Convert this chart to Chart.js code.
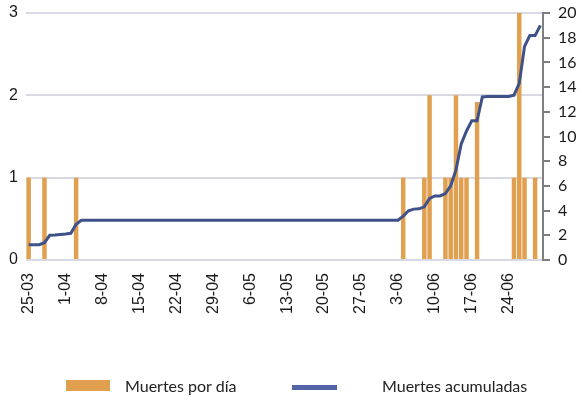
<!DOCTYPE html>
<html>
<head>
<meta charset="utf-8">
<script src="https://cdn.jsdelivr.net/npm/chart.js@4.4.1/dist/chart.umd.min.js"></script>
<style>
    html, body { margin: 0; padding: 0; background: #ffffff; }
    #chart-wrap { position: relative; width: 582px; height: 401px; }
    .legend-item { position: absolute; font-family: Lato, sans-serif; font-size: 16px; color: #222222; line-height: 16px; }
    .legend-swatch { position: absolute; }
</style>
</head>
<body>
<div id="chart-wrap">
    <canvas id="deathsChart"></canvas>
    <div class="legend-swatch" id="swatch-bar" style="left:66px; top:380px; width:44px; height:11px;"></div>
    <div class="legend-item" id="label-bar" style="left:125px; top:378px;"></div>
    <div class="legend-swatch" id="swatch-line" style="left:292px; top:385px; width:45px; height:5px;"></div>
    <div class="legend-item" id="label-line" style="left:382px; top:378px;"></div>
</div>
<script>
// Dias del 25-03 al 30-06; etiqueta visible cada 7 dias
const Start_Day = 25;
const Month_Names = ['03', '04', '05', '06'];
const Month_Lengths = [31, 30, 31, 30];
const Num_Days = 98;

// Muertes por dia, una fila por semana (empezando el 25-03)
const Daily_Deaths = [
    1, 0, 0, 1, 0, 0, 0,
    0, 0, 1, 0, 0, 0, 0,
    0, 0, 0, 0, 0, 0, 0,
    0, 0, 0, 0, 0, 0, 0,
    0, 0, 0, 0, 0, 0, 0,
    0, 0, 0, 0, 0, 0, 0,
    0, 0, 0, 0, 0, 0, 0,
    0, 0, 0, 0, 0, 0, 0,
    0, 0, 0, 0, 0, 0, 0,
    0, 0, 0, 0, 0, 0, 0,
    0, 1, 0, 0, 0, 1, 2,
    0, 0, 1, 1, 2, 1, 1,
    0, 1.92, 0, 0, 0, 0, 0,
    0, 1, 3, 1, 0, 1, 0
];

// Muertes acumuladas (eje derecho)
const Cumulative_Deaths = [
    1.24, 1.24, 1.24, 1.4, 2.0, 2.03, 2.07,
    2.11, 2.16, 2.9, 3.22, 3.22, 3.22, 3.22,
    3.22, 3.22, 3.22, 3.22, 3.22, 3.22, 3.22,
    3.22, 3.22, 3.22, 3.22, 3.22, 3.22, 3.22,
    3.22, 3.22, 3.22, 3.22, 3.22, 3.22, 3.22,
    3.22, 3.22, 3.22, 3.22, 3.22, 3.22, 3.22,
    3.22, 3.22, 3.22, 3.22, 3.22, 3.22, 3.22,
    3.22, 3.22, 3.22, 3.22, 3.22, 3.22, 3.22,
    3.22, 3.22, 3.22, 3.22, 3.22, 3.22, 3.22,
    3.22, 3.22, 3.22, 3.22, 3.22, 3.22, 3.22,
    3.22, 3.55, 3.99, 4.12, 4.14, 4.3, 4.98,
    5.19, 5.19, 5.38, 6.0, 7.3, 9.4, 10.45,
    11.27, 11.27, 13.2, 13.24, 13.24, 13.24, 13.24,
    13.24, 13.35, 14.3, 17.3, 18.17, 18.17, 19.0
];

const Series_Names = ['Muertes por día', 'Muertes acumuladas'];
const Bar_Color = '#e0a04f';
const Line_Color = '#3f5189';
const Legend_Line_Color = '#5263a6';

function Build_Day_Labels() {
    const Labels = [];
    let Month = 0;
    let Day = Start_Day;
    for (let i = 0; i < Num_Days; i++) {
        Labels.push(`${Day}-${Month_Names[Month]}`);
        Day++;
        if (Day > Month_Lengths[Month]) { Day = 1; Month++; }
    }
    return Labels;
}

// Fija el ancho del eje y quita el relleno extra que Chart.js reserva arriba
function Fix_Axis(Width) {
    return Scale => {
        Scale.width = Width;
        Scale.paddingTop = 0;
        Scale.paddingBottom = 0;
    };
}

document.addEventListener('DOMContentLoaded', () => {
    const Day_Labels = Build_Day_Labels();

    document.getElementById('swatch-bar').style.background = Bar_Color;
    document.getElementById('swatch-line').style.background = Legend_Line_Color;
    document.getElementById('label-bar').innerText = Series_Names[0];
    document.getElementById('label-line').innerText = Series_Names[1];

    const Ctx = document.getElementById('deathsChart').getContext('2d');
    new Chart(Ctx, {
        type: 'bar',
        data: {
            labels: Day_Labels,
            datasets: [
                {
                    type: 'line', label: Series_Names[1], data: Cumulative_Deaths, yAxisID: 'y2',
                    borderColor: Line_Color, borderWidth: 3, pointRadius: 0, tension: 0, fill: false, order: 0
                },
                {
                    type: 'bar', label: Series_Names[0], data: Daily_Deaths, yAxisID: 'y',
                    backgroundColor: Bar_Color, borderWidth: 0, barPercentage: 0.85, categoryPercentage: 1, order: 1
                }
            ]
        },
        options: {
            responsive: true,
            maintainAspectRatio: false,
            animation: false,
            layout: { padding: { left: 0, right: 0, top: 13, bottom: 0 } },
            plugins: { legend: { display: false }, tooltip: { enabled: false } },
            scales: {
                x: {
                    grid: { display: false, drawTicks: false },
                    border: { display: false },
                    afterFit: Scale => { Scale.height = 141; },
                    ticks: {
                        autoSkip: false, minRotation: 90, maxRotation: 90, padding: 13,
                        color: '#1a1a1a', font: { family: '"Liberation Sans", Arial, sans-serif', size: 16 },
                        callback: (Value, Index) => (Index % 7 === 0 ? Day_Labels[Index] : '')
                    }
                },
                y: {
                    position: 'left', min: 0, max: 3,
                    afterFit: Fix_Axis(26),
                    grid: { color: '#d9d9e3', lineWidth: 2, drawTicks: false },
                    border: { display: false },
                    ticks: {
                        stepSize: 1, padding: 8, color: '#1a1a1a',
                        font: { family: '"Liberation Sans", Arial, sans-serif', size: 16 }
                    }
                },
                y2: {
                    position: 'right', min: 0, max: 20,
                    afterFit: Fix_Axis(39),
                    grid: { drawOnChartArea: false, drawTicks: true, tickLength: 7, color: '#7f7f7f', lineWidth: 2 },
                    border: { display: true, color: '#7f7f7f', width: 2 },
                    ticks: {
                        stepSize: 2, padding: 8, color: '#1a1a1a',
                        font: { family: 'Lato, sans-serif', size: 16 }
                    }
                }
            }
        }
    });
});
</script>
</body>
</html>
